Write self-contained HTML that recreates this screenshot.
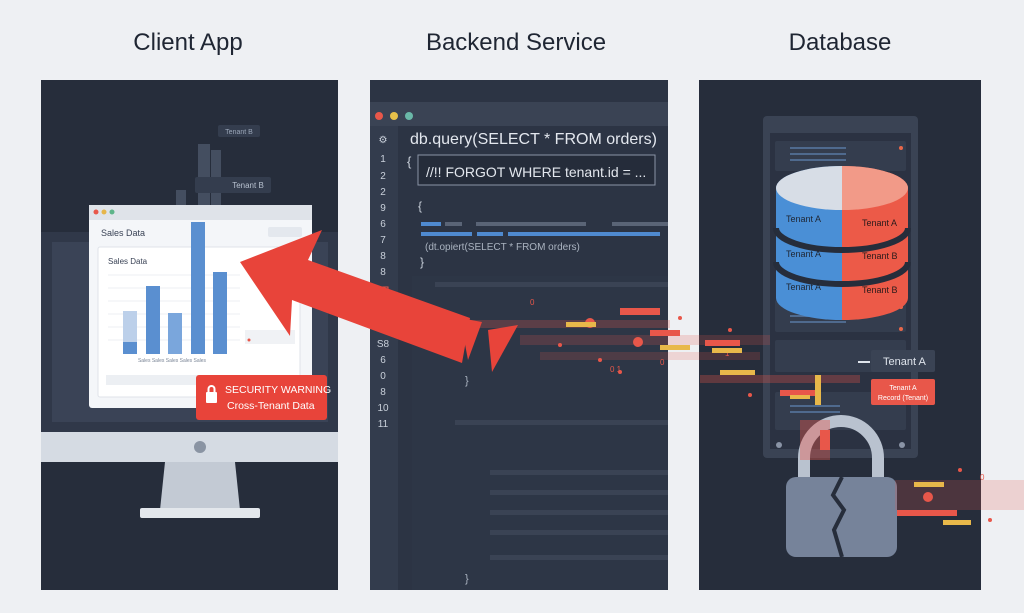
<!DOCTYPE html>
<html><head><meta charset="utf-8"><style>
html,body{margin:0;padding:0;background:#eef0f3;}
svg{display:block;font-family:"Liberation Sans",sans-serif;}
</style></head><body>
<svg width="1024" height="613" viewBox="0 0 1024 613" xmlns="http://www.w3.org/2000/svg">
<rect width="1024" height="613" fill="#eef0f3"/>
<text x="188" y="50" font-size="24" fill="#1f2633" text-anchor="middle">Client App</text>
<text x="516" y="50" font-size="24" fill="#1f2633" text-anchor="middle">Backend Service</text>
<text x="840" y="50" font-size="24" fill="#1f2633" text-anchor="middle">Database</text>

<!-- LEFT PANEL -->
<rect x="41" y="80" width="297" height="510" fill="#262d3b"/>
<rect x="41" y="232" width="297" height="200" fill="#303849"/>
<rect x="52" y="242" width="276" height="180" fill="#3a4356"/>
<rect x="41" y="432" width="297" height="30" fill="#d5dbe3"/>
<circle cx="200" cy="447" r="6" fill="#8a94a3"/>
<polygon points="165,462 235,462 240,510 160,510" fill="#c3cad4"/>
<rect x="140" y="508" width="120" height="10" rx="2" fill="#e3e7ec"/>
<!-- faded tall bars -->
<rect x="198" y="144" width="12" height="130" fill="#8a9ab5" opacity="0.3"/>
<rect x="211" y="150" width="10" height="124" fill="#8a9ab5" opacity="0.3"/>
<rect x="176" y="190" width="10" height="84" fill="#8a9ab5" opacity="0.3"/>
<rect x="218" y="125" width="42" height="12" rx="2" fill="#343d4e"/>
<text x="239" y="134" font-size="7" fill="#9aa6b8" text-anchor="middle">Tenant B</text>
<rect x="195" y="177" width="76" height="16" rx="2" fill="#343d4e"/>
<text x="248" y="188" font-size="8" fill="#b8c2d0" text-anchor="middle">Tenant B</text>
<!-- browser window -->
<rect x="89" y="205" width="223" height="203" rx="3" fill="#f4f6f9"/>
<rect x="89" y="205" width="223" height="15" fill="#dfe3e9"/>
<circle cx="96" cy="212" r="2.5" fill="#e8574a"/><circle cx="104" cy="212" r="2.5" fill="#e6b64a"/><circle cx="112" cy="212" r="2.5" fill="#5fb58a"/>
<text x="101" y="236" font-size="9" fill="#3a4356">Sales Data</text>
<rect x="268" y="227" width="34" height="10" rx="2" fill="#e4e8ee"/>
<rect x="98" y="247" width="202" height="150" rx="2" fill="#ffffff" stroke="#dfe3e9"/>
<text x="108" y="264" font-size="8" fill="#3a4356">Sales Data</text>
<g stroke="#eceff3"><line x1="108" y1="275" x2="240" y2="275"/><line x1="108" y1="288" x2="240" y2="288"/><line x1="108" y1="301" x2="240" y2="301"/><line x1="108" y1="314" x2="240" y2="314"/><line x1="108" y1="327" x2="240" y2="327"/><line x1="108" y1="340" x2="240" y2="340"/></g>
<rect x="123" y="311" width="14" height="43" fill="#bcd0ea"/>
<rect x="123" y="342" width="14" height="12" fill="#5a8fd0"/>
<rect x="146" y="286" width="14" height="68" fill="#5a8fd0"/>
<rect x="168" y="313" width="14" height="41" fill="#7aa6dc"/>
<rect x="191" y="222" width="14" height="132" fill="#5a8fd0"/>
<rect x="213" y="272" width="14" height="82" fill="#5a8fd0"/>
<text x="172" y="362" font-size="5" fill="#7a8596" text-anchor="middle">Sales  Sales  Sales  Sales  Sales</text>
<rect x="245" y="330" width="50" height="14" fill="#f0f2f5"/>
<circle cx="249" cy="340" r="1.5" fill="#e8574a"/>
<rect x="106" y="375" width="180" height="10" fill="#eceff3"/>
<!-- warning -->
<rect x="196" y="375" width="131" height="45" rx="3" fill="#e8443a"/>
<rect x="206" y="392" width="11" height="11" rx="1" fill="#fff"/>
<path d="M208.5,392 v-3 a3,3 0 0 1 6,0 v3" stroke="#fff" stroke-width="2" fill="none"/>
<text x="225" y="393" font-size="10.5" fill="#fff">SECURITY WARNING</text>
<text x="227" y="409" font-size="10.5" fill="#fff">Cross-Tenant Data</text>

<!-- MIDDLE PANEL -->
<rect x="370" y="80" width="298" height="510" fill="#2c3444"/>
<rect x="370" y="102" width="298" height="24" fill="#3a4354"/>
<circle cx="379" cy="116" r="4" fill="#e8574a"/><circle cx="394" cy="116" r="4" fill="#e6c04a"/><circle cx="409" cy="116" r="4" fill="#6ab8a8"/>
<rect x="370" y="126" width="28" height="464" fill="#333c4d"/>
<g font-size="10" fill="#c9d0da" text-anchor="middle">
<text x="383" y="143">⚙</text><text x="383" y="162">1</text><text x="383" y="179">2</text><text x="383" y="195">2</text><text x="383" y="211">9</text><text x="383" y="227">6</text><text x="383" y="243">7</text><text x="383" y="259">8</text><text x="383" y="275">8</text><text x="383" y="347">S8</text><text x="383" y="363">6</text><text x="383" y="379">0</text><text x="383" y="395">8</text><text x="383" y="411">10</text><text x="383" y="427">11</text>
</g>
<rect x="377" y="287" width="11" height="13" fill="none" stroke="#e8574a"/>
<text x="410" y="144" font-size="16" fill="#e3e7ee">db.query(SELECT * FROM orders)</text>
<text x="407" y="166" font-size="13" fill="#c9d0da">{</text>
<rect x="418" y="155" width="237" height="30" fill="#252c3a" stroke="#8a94a6"/>
<text x="426" y="177" font-size="14" fill="#e3e7ee">//!! FORGOT WHERE tenant.id = ...</text>
<text x="418" y="210" font-size="12" fill="#c9d0da">{</text>
<rect x="421" y="222" width="20" height="4" fill="#4f8ad0"/><rect x="445" y="222" width="17" height="4" fill="#5a6476"/><rect x="476" y="222" width="110" height="4" fill="#5a6476"/><rect x="612" y="222" width="56" height="4" fill="#5a6476"/>
<rect x="421" y="232" width="51" height="4" fill="#4f8ad0"/><rect x="477" y="232" width="26" height="4" fill="#4f8ad0"/><rect x="508" y="232" width="152" height="4" fill="#4f8ad0"/>
<text x="425" y="250" font-size="10" fill="#aab3c0">(dt.opiert(SELECT * FROM orders)</text>
<text x="420" y="266" font-size="12" fill="#c9d0da">}</text>
<rect x="412" y="276" width="256" height="314" fill="#2f3848" opacity="0.6"/>
<rect x="435" y="282" width="233" height="5" fill="#3a4354"/>
<rect x="455" y="420" width="213" height="5" fill="#3a4354"/>
<rect x="490" y="470" width="178" height="5" fill="#3a4354"/>
<rect x="490" y="490" width="178" height="5" fill="#3a4354"/>
<rect x="490" y="510" width="178" height="5" fill="#3a4354"/>
<rect x="490" y="530" width="178" height="5" fill="#3a4354"/>
<rect x="490" y="555" width="178" height="5" fill="#3a4354"/>
<text x="465" y="384" font-size="11" fill="#aab3c0">}</text>
<text x="465" y="582" font-size="11" fill="#aab3c0">}</text>

<!-- RIGHT PANEL -->
<rect x="699" y="80" width="282" height="510" fill="#262d3b"/>
<rect x="763" y="116" width="155" height="342" rx="4" fill="#3a4354"/>
<rect x="770" y="133" width="141" height="316" fill="#2b3242"/>
<rect x="775" y="141" width="131" height="30" rx="2" fill="#343d4e"/>
<rect x="775" y="300" width="131" height="32" rx="2" fill="#343d4e"/>
<rect x="775" y="340" width="131" height="32" rx="2" fill="#343d4e"/>
<rect x="775" y="392" width="131" height="38" rx="2" fill="#343d4e"/>
<g fill="#4f6a8e"><rect x="790" y="147" width="56" height="2"/><rect x="790" y="153" width="56" height="2"/><rect x="790" y="159" width="56" height="2"/><rect x="790" y="309" width="56" height="2"/><rect x="790" y="315" width="56" height="2"/><rect x="790" y="321" width="56" height="2"/><rect x="790" y="405" width="50" height="2"/><rect x="790" y="411" width="50" height="2"/></g>
<circle cx="901" cy="148" r="2" fill="#e8674a"/><circle cx="901" cy="307" r="2" fill="#e8674a"/><circle cx="901" cy="329" r="2" fill="#e8674a"/>
<circle cx="779" cy="445" r="3" fill="#8a94a6"/><circle cx="902" cy="445" r="3" fill="#8a94a6"/>
<!-- cylinder -->
<path d="M776,188 v110 a66,22 0 0 0 66,22 v-154 a66,22 0 0 0 -66,22z" fill="#4a8fd6"/>
<path d="M908,188 v110 a66,22 0 0 1 -66,22 v-154 a66,22 0 0 1 66,22z" fill="#ec5a48"/>
<path d="M776,188 a66,22 0 0 1 66,-22 v44 a66,22 0 0 1 -66,-22z" fill="#d7dde6"/>
<path d="M908,188 a66,22 0 0 0 -66,-22 v44 a66,22 0 0 0 66,-22z" fill="#f29a88"/>
<path d="M776,228 a66,22 0 0 0 132,0" stroke="#262d3b" stroke-width="6" fill="none"/>
<path d="M776,262 a66,22 0 0 0 132,0" stroke="#262d3b" stroke-width="6" fill="none"/>
<g font-size="9" fill="#1f2633"><text x="786" y="222">Tenant A</text><text x="786" y="257">Tenant A</text><text x="786" y="290">Tenant A</text></g>
<g font-size="9" fill="#2a1a1a"><text x="862" y="226">Tenant A</text><text x="862" y="259">Tenant B</text><text x="862" y="293">Tenant B</text></g>
<rect x="871" y="350" width="64" height="22" rx="2" fill="#3a4354"/>
<text x="883" y="365" font-size="11" fill="#dfe4ec">Tenant A</text>
<line x1="858" y1="362" x2="870" y2="362" stroke="#dfe4ec" stroke-width="2"/>
<rect x="871" y="379" width="64" height="26" rx="2" fill="#e8574a"/>
<text x="903" y="390" font-size="7" fill="#fff" text-anchor="middle">Tenant A</text>
<text x="903" y="400" font-size="7" fill="#fff" text-anchor="middle">Record (Tenant)</text>
<!-- lock -->
<path d="M804,478 v-20 a37,37 0 0 1 74,0 v20" stroke="#b9c2cf" stroke-width="12" fill="none"/>
<rect x="786" y="477" width="111" height="80" rx="10" fill="#76839a"/>
<polyline points="842,477 833,495 844,510 834,530 842,557" stroke="#262d3b" stroke-width="4" fill="none"/>

<!-- data stream -->
<g fill="#e8574a">
<rect x="470" y="320" width="200" height="8" opacity="0.25"/>
<rect x="520" y="335" width="250" height="10" opacity="0.2"/>
<rect x="540" y="352" width="220" height="8" opacity="0.18"/>
<rect x="700" y="375" width="160" height="8" opacity="0.3"/>
<rect x="780" y="390" width="40" height="6"/>
<rect x="800" y="420" width="30" height="40" opacity="0.4"/>
<rect x="895" y="480" width="129" height="30" opacity="0.2"/>
<rect x="897" y="510" width="60" height="6"/>
<rect x="620" y="308" width="40" height="7"/>
<rect x="650" y="330" width="30" height="6"/>
<rect x="705" y="340" width="35" height="6"/>
<rect x="820" y="430" width="10" height="20"/>
<circle cx="590" cy="323" r="5"/><circle cx="638" cy="342" r="5"/><circle cx="928" cy="497" r="5"/>
<circle cx="560" cy="345" r="2"/><circle cx="600" cy="360" r="2"/><circle cx="620" cy="372" r="2"/><circle cx="680" cy="318" r="2"/><circle cx="730" cy="330" r="2"/><circle cx="750" cy="395" r="2"/><circle cx="960" cy="470" r="2"/><circle cx="990" cy="520" r="2"/>
</g>
<g fill="#e8574a" font-size="8"><text x="530" y="305">0</text><text x="610" y="372">0 1</text><text x="660" y="365">0</text><text x="725" y="356">1</text><text x="980" y="480">0</text></g>
<g fill="#e8b84a"><rect x="566" y="322" width="30" height="5"/><rect x="660" y="345" width="30" height="5"/><rect x="712" y="348" width="30" height="5"/><rect x="720" y="370" width="35" height="5"/><rect x="790" y="395" width="20" height="4"/><rect x="914" y="482" width="30" height="5"/><rect x="943" y="520" width="28" height="5"/><rect x="815" y="375" width="6" height="30"/></g>

<!-- big arrow -->
<polygon points="240,262 322,230 308,260 470,318 462,363 292,300 290,336" fill="#e8443a"/>
<polygon points="460,318 482,322 468,360" fill="#e8443a"/>
<polygon points="488,330 518,325 492,372" fill="#e8443a"/>
</svg>
</body></html>
